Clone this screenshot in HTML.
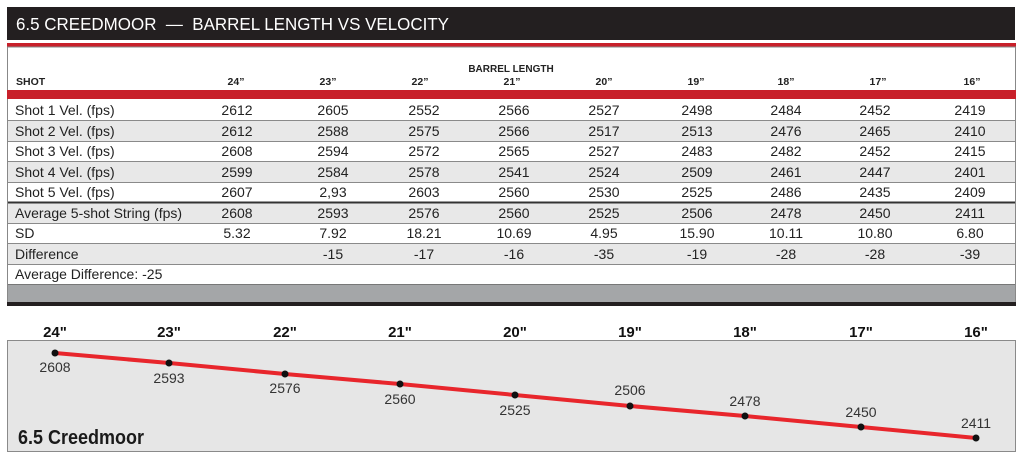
<!DOCTYPE html>
<html><head><meta charset="utf-8"><style>
html,body{margin:0;padding:0;background:#fff;}
svg{display:block;font-family:"Liberation Sans",sans-serif;}
</style></head><body>
<svg width="1024" height="460" viewBox="0 0 1024 460" xmlns="http://www.w3.org/2000/svg">
<rect x="7" y="7" width="1008" height="33" fill="#231f20"/>
<text x="16" y="30" font-size="17.5" fill="#fff" textLength="433" lengthAdjust="spacingAndGlyphs">6.5 CREEDMOOR&#160; —&#160; BARREL LENGTH VS VELOCITY</text>
<rect x="7" y="43" width="1009" height="4" fill="#c8202a"/>
<rect x="7.5" y="47" width="1008" height="256" fill="#fff" stroke="#888" stroke-width="1"/>
<text x="511" y="72" font-size="10" font-weight="bold" text-anchor="middle" fill="#222">BARREL LENGTH</text>
<g font-size="10.5" font-weight="bold" fill="#222" text-anchor="middle">
<text x="16" y="85" text-anchor="start">SHOT</text>
<text x="236" y="85">24”</text><text x="328" y="85">23”</text><text x="420" y="85">22”</text><text x="512" y="85">21”</text><text x="604" y="85">20”</text><text x="696" y="85">19”</text><text x="786" y="85">18”</text><text x="878" y="85">17”</text><text x="972" y="85">16”</text>
</g>
<rect x="7" y="90" width="1009" height="9" fill="#c8202a"/>
<g fill="#e8e8e8">
<rect x="8" y="121" width="1007" height="20"/>
<rect x="8" y="162" width="1007" height="20"/>
<rect x="8" y="203" width="1007" height="20"/>
<rect x="8" y="244" width="1007" height="20"/>
</g>
<g stroke="#8a8a8a" stroke-width="1">
<line x1="8" y1="120.5" x2="1015" y2="120.5"/><line x1="8" y1="141.5" x2="1015" y2="141.5"/>
<line x1="8" y1="161.5" x2="1015" y2="161.5"/><line x1="8" y1="182.5" x2="1015" y2="182.5"/>
<line x1="8" y1="223.5" x2="1015" y2="223.5"/><line x1="8" y1="243.5" x2="1015" y2="243.5"/>
<line x1="8" y1="264.5" x2="1015" y2="264.5"/>
</g>
<rect x="8" y="201.5" width="1007" height="2" fill="#333"/>
<rect x="8" y="284" width="1007" height="19" fill="#a4a6a8"/>
<line x1="8" y1="284.5" x2="1015" y2="284.5" stroke="#777"/>
<rect x="7" y="302" width="1009" height="4" fill="#231f20"/>
<g font-size="14" fill="#222" text-anchor="middle">
<g text-anchor="start"><text x="15" y="115">Shot 1 Vel. (fps)</text><text x="15" y="136">Shot 2 Vel. (fps)</text><text x="15" y="156">Shot 3 Vel. (fps)</text><text x="15" y="177">Shot 4 Vel. (fps)</text><text x="15" y="197">Shot 5 Vel. (fps)</text><text x="15" y="218">Average 5-shot String (fps)</text><text x="15" y="238">SD</text><text x="15" y="259">Difference</text><text x="15" y="279">Average Difference: -25</text></g>
<g transform="translate(0,115)"><text x="237">2612</text><text x="333">2605</text><text x="424">2552</text><text x="514">2566</text><text x="604">2527</text><text x="697">2498</text><text x="786">2484</text><text x="875">2452</text><text x="970">2419</text></g>
<g transform="translate(0,136)"><text x="237">2612</text><text x="333">2588</text><text x="424">2575</text><text x="514">2566</text><text x="604">2517</text><text x="697">2513</text><text x="786">2476</text><text x="875">2465</text><text x="970">2410</text></g>
<g transform="translate(0,156)"><text x="237">2608</text><text x="333">2594</text><text x="424">2572</text><text x="514">2565</text><text x="604">2527</text><text x="697">2483</text><text x="786">2482</text><text x="875">2452</text><text x="970">2415</text></g>
<g transform="translate(0,177)"><text x="237">2599</text><text x="333">2584</text><text x="424">2578</text><text x="514">2541</text><text x="604">2524</text><text x="697">2509</text><text x="786">2461</text><text x="875">2447</text><text x="970">2401</text></g>
<g transform="translate(0,197)"><text x="237">2607</text><text x="333">2,93</text><text x="424">2603</text><text x="514">2560</text><text x="604">2530</text><text x="697">2525</text><text x="786">2486</text><text x="875">2435</text><text x="970">2409</text></g>
<g transform="translate(0,218)"><text x="237">2608</text><text x="333">2593</text><text x="424">2576</text><text x="514">2560</text><text x="604">2525</text><text x="697">2506</text><text x="786">2478</text><text x="875">2450</text><text x="970">2411</text></g>
<g transform="translate(0,238)"><text x="237">5.32</text><text x="333">7.92</text><text x="424">18.21</text><text x="514">10.69</text><text x="604">4.95</text><text x="697">15.90</text><text x="786">10.11</text><text x="875">10.80</text><text x="970">6.80</text></g>
<g transform="translate(0,259)"><text x="333">-15</text><text x="424">-17</text><text x="514">-16</text><text x="604">-35</text><text x="697">-19</text><text x="786">-28</text><text x="875">-28</text><text x="970">-39</text></g>
</g>
<rect x="7.5" y="340.5" width="1008" height="111" fill="#e6e6e6" stroke="#8a8a8a"/>
<g font-size="15" font-weight="bold" fill="#111" text-anchor="middle">
<text x="55" y="337">24"</text><text x="169" y="337">23"</text><text x="285" y="337">22"</text><text x="400" y="337">21"</text><text x="515" y="337">20"</text><text x="630" y="337">19"</text><text x="745" y="337">18"</text><text x="861" y="337">17"</text><text x="976" y="337">16"</text>
</g>
<polyline points="55,353 169,363 285,374 400,384 515,395 630,406 745,416 861,427 976,438" fill="none" stroke="#e8262c" stroke-width="4"/>
<g fill="#111"><circle cx="55" cy="353" r="3.5"/><circle cx="169" cy="363" r="3.5"/><circle cx="285" cy="374" r="3.5"/><circle cx="400" cy="384" r="3.5"/><circle cx="515" cy="395" r="3.5"/><circle cx="630" cy="406" r="3.5"/><circle cx="745" cy="416" r="3.5"/><circle cx="861" cy="427" r="3.5"/><circle cx="976" cy="438" r="3.5"/></g>
<g font-size="14" fill="#333" text-anchor="middle">
<text x="55" y="372">2608</text><text x="169" y="383">2593</text><text x="285" y="393">2576</text><text x="400" y="404">2560</text><text x="515" y="415">2525</text>
<text x="630" y="395">2506</text><text x="745" y="406">2478</text><text x="861" y="417">2450</text><text x="976" y="428">2411</text>
</g>
<text x="18" y="444" font-size="20" font-weight="bold" fill="#1a1a1a" transform="translate(18,0) scale(0.9,1) translate(-18,0)">6.5 Creedmoor</text>
</svg>
</body></html>
